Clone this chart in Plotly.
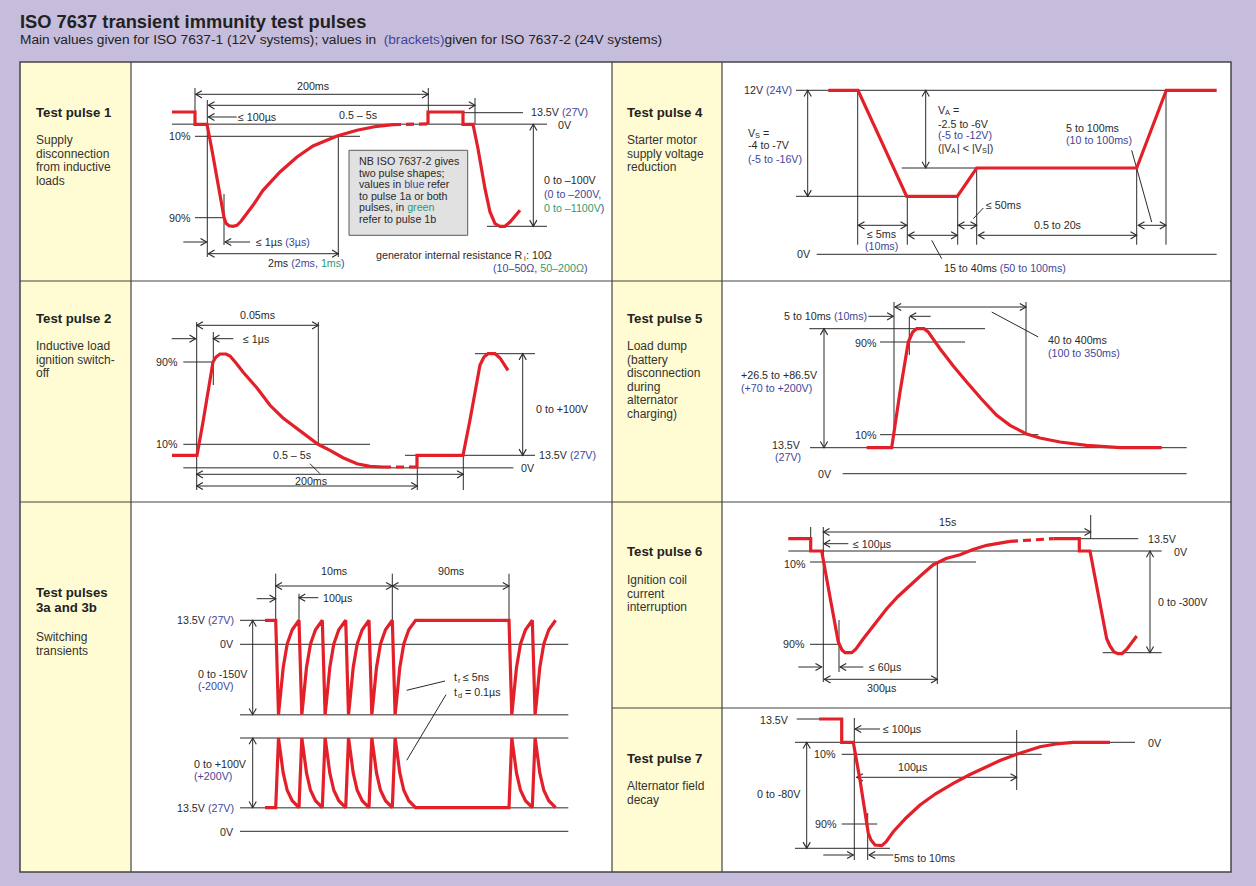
import math
import plotly.graph_objects as go

W, H = 1256, 886
BG = "#c6bddc"
YEL = "#fffbd2"
RED = "#e3202a"
INK = "#2a2a2a"
GRAY = "#707070"
BORDER = "#444444"
BLUE = "#3f469a"
GREEN = "#2e9a72"
FONT = "Liberation Sans, Arial, sans-serif"
FS = 10.7

# ---------------- waveform data (time position, level above the panel's 0 V line) ----------------
# Test pulse 1
p1_t = [172, 195, 195, 207, 212, 217, 221, 224, 226, 229, 233, 237, 241, 245, 253, 263, 280, 297, 313, 337, 357, 377, 393]
p1_v = [12.3, 12.3, 0, 0, -26, -54, -76, -93, -99, -101.5, -102, -101, -97, -92, -81, -66, -47.7, -32.7, -21.7, -11.7, -6, -2, -0.4]
p1_dash_t = [393, 428]
p1_dash_v = [-0.4, 0.4]
p1b_t = [428, 428, 463, 463, 473, 478, 485, 490, 495, 500, 505, 510, 520]
p1b_v = [0.4, 12.3, 12.3, 0, 0, -24.4, -64.4, -87.7, -99.4, -102, -102, -97.7, -86]

# Test pulse 2
p2_t = [172, 197, 203, 209, 213, 216, 220, 226, 230, 236, 243, 257, 270, 283, 297, 310, 318, 330, 343, 357, 370, 383]
p2_v = [12.4, 12.4, 45.7, 79.7, 105.7, 110.7, 113.7, 113.7, 111.7, 104.7, 95.7, 79.7, 62.4, 49.7, 39, 29.7, 23.4, 17.4, 10, 4, 1.4, 0.7]
p2_dash_t = [383, 414]
p2_dash_v = [0.7, 0.7]
p2b_t = [414, 417, 417, 463, 470, 476, 480, 484, 488, 495, 500, 508]
p2b_v = [0.7, 0.7, 12.4, 12.4, 47.7, 82.7, 102.7, 110.7, 114, 114, 109.7, 97.4]

# Test pulses 3a / 3b
p3_t = [265,
        275.7, 278.5, 279.7, 281.2, 283.2, 287.2, 292.2, 299,
        301.8, 303, 304.5, 306.5, 310.5, 315.5, 322.3,
        325.1, 326.3, 327.8, 329.8, 333.8, 338.8, 345.7,
        348.5, 349.7, 351.2, 353.2, 357.2, 362.2, 369,
        371.8, 373, 374.5, 376.5, 380.5, 385.5, 392.3,
        395.1, 396.3, 397.8, 399.8, 403.8, 408.8, 415.6,
        509, 511.8, 513, 514.5, 516.5, 520.5, 525.5, 532.3,
        535.1, 536.3, 537.8, 539.8, 543.8, 548.8, 555.6]
p3a_v = [24,
         24, -70.4, -59.1, -42.1, -23.2, 0.4, 14.6, 24,
         -70.4, -59.1, -42.1, -23.2, 0.4, 14.6, 24,
         -70.4, -59.1, -42.1, -23.2, 0.4, 14.6, 24,
         -70.4, -59.1, -42.1, -23.2, 0.4, 14.6, 24,
         -70.4, -59.1, -42.1, -23.2, 0.4, 14.6, 24,
         -70.4, -59.1, -42.1, -23.2, 0.4, 14.6, 24,
         24, -70.4, -59.1, -42.1, -23.2, 0.4, 14.6, 24,
         -70.4, -59.1, -42.1, -23.2, 0.4, 14.6, 24]
p3b_v = [-163.4,
         -163.4, -93.7, -102.1, -114.6, -128.6, -146, -156.4, -163.4,
         -93.7, -102.1, -114.6, -128.6, -146, -156.4, -163.4,
         -93.7, -102.1, -114.6, -128.6, -146, -156.4, -163.4,
         -93.7, -102.1, -114.6, -128.6, -146, -156.4, -163.4,
         -93.7, -102.1, -114.6, -128.6, -146, -156.4, -163.4,
         -93.7, -102.1, -114.6, -128.6, -146, -156.4, -163.4,
         -163.4, -93.7, -102.1, -114.6, -128.6, -146, -156.4, -163.4,
         -93.7, -102.1, -114.6, -128.6, -146, -156.4, -163.4]

# Test pulse 4
p4_t = [828.3, 858, 906.7, 957.3, 976.7, 1136.7, 1166.3, 1216.7]
p4_v = [164, 164, 58, 58, 86.3, 86.3, 164, 164]

# Test pulse 5
p5_t = [866.7, 891.7, 900, 905, 908.3, 912.7, 916.7, 924, 928.3, 940, 953.3, 966.7, 981.7, 996.7, 1010, 1026, 1040, 1060, 1086.7, 1120, 1161.7]
p5_v = [26, 26, 81.7, 111.7, 131.7, 141.7, 145, 145, 141.7, 125, 107.7, 91.7, 74.4, 58.4, 48.4, 40, 35.7, 31.7, 28.4, 26, 26]

# Test pulse 6
p6_t = [788.3, 810.7, 810.7, 821.7, 830, 838.3, 842, 845, 851.7, 856, 863.3, 875, 886.7, 898, 910, 922, 933.3, 946, 960, 973, 986.7, 1000, 1010]
p6_v = [12.3, 12.3, 0, 0, -46, -91, -99, -101.7, -101.7, -98, -87.7, -72.5, -57.7, -45.5, -34.3, -23.5, -13.7, -7.5, -3.7, 1.5, 5.7, 8.2, 9.7]
p6_dash_t = [1010, 1053.3]
p6_dash_v = [9.7, 12.3]
p6b_t = [1053.3, 1079.3, 1079.3, 1090, 1106.7, 1110, 1114, 1118, 1122, 1127, 1136.7]
p6b_v = [12.3, 12.3, 0, 0, -87.7, -95, -101, -102.7, -102.7, -98, -85]

# Test pulse 7
p7_t = [819, 841.7, 841.7, 853.3, 860, 865, 868.3, 871, 875, 881.7, 886, 893.3, 906, 920, 936, 953.3, 970, 986.7, 1000, 1016.7, 1028, 1040, 1056, 1073.3, 1110]
p7_v = [23.3, 23.3, 0, 0, -37.7, -67.7, -91, -97.7, -102.7, -103.4, -99.7, -89.4, -75.7, -62.7, -51.2, -41, -32.2, -24.4, -18.2, -12, -8.2, -4.4, -1.7, 0, 0]

# Panel headings
panel_titles = ["Test pulse 1", "Test pulse 2", "Test pulses<br>3a and 3b", "Test pulse 4",
                "Test pulse 5", "Test pulse 6", "Test pulse 7"]

# ---------------- layout geometry ----------------
# panel: (left, top, right, bottom, y of 0 V line) in page pixels
panels = [
    (131, 62, 612, 281, 124.3),
    (131, 281, 612, 502, 467.7),
    (131, 502, 612, 872, 644.3),
    (722, 62, 1231, 281, 254.3),
    (722, 281, 1231, 502, 473.7),
    (722, 502, 1231, 708, 551),
    (722, 708, 1231, 872, 742.3),
]

fig = go.Figure()
axes = {
    "xaxis": dict(domain=[0, 1], range=[0, W], visible=False, fixedrange=True),
    "yaxis": dict(domain=[0, 1], range=[H, 0], visible=False, fixedrange=True),
}
for i, (l, t, r, b, base) in enumerate(panels, start=2):
    axes[f"xaxis{i}"] = dict(domain=[l / W, r / W], range=[l, r], visible=False,
                             anchor=f"y{i}", fixedrange=True)
    axes[f"yaxis{i}"] = dict(domain=[1 - b / H, 1 - t / H], range=[base - b, base - t],
                             visible=False, anchor=f"x{i}", fixedrange=True)

fig.add_trace(go.Scatter(x=[0], y=[0], mode="markers", marker=dict(opacity=0),
                         hoverinfo="skip", showlegend=False))


def wave(t, v, panel, dash=None):
    ln = dict(color=RED, width=3.2)
    if dash:
        ln["dash"] = dash
    fig.add_trace(go.Scatter(x=t, y=v, mode="lines", line=ln, xaxis=f"x{panel}",
                             yaxis=f"y{panel}", hoverinfo="skip", showlegend=False))


wave(p1_t, p1_v, 2)
wave(p1_dash_t, p1_dash_v, 2, "8px,5px")
wave(p1b_t, p1b_v, 2)
wave(p2_t, p2_v, 3)
wave(p2_dash_t, p2_dash_v, 3, "8px,5px")
wave(p2b_t, p2b_v, 3)
wave(p3_t, p3a_v, 4)
wave(p3_t, p3b_v, 4)
wave(p4_t, p4_v, 5)
wave(p5_t, p5_v, 6)
wave(p6_t, p6_v, 7)
wave(p6_dash_t, p6_dash_v, 7, "8px,5px")
wave(p6b_t, p6b_v, 7)
wave(p7_t, p7_v, 8)

shapes = []
annotations = []


def seg(x0, y0, x1, y1, color=INK, width=1):
    shapes.append(dict(type="line", xref="x", yref="y", x0=x0, y0=y0, x1=x1, y1=y1,
                       line=dict(color=color, width=width), layer="below"))


def hl(x0, x1, y, color=INK, width=1):
    seg(x0, y, x1, y, color, width)


def vl(x, y0, y1, color=INK, width=1):
    seg(x, y0, x, y1, color, width)


def rect(x0, y0, x1, y1, fill, lc=None, lw=0):
    shapes.append(dict(type="rect", xref="x", yref="y", x0=x0, y0=y0, x1=x1, y1=y1,
                       fillcolor=fill, line=dict(color=lc or fill, width=lw), layer="below"))


def head(xt, yt, xf, yf, L=6.2, hw=3.6):
    dx, dy = xf - xt, yf - yt
    n = math.hypot(dx, dy)
    ux, uy = dx / n, dy / n
    px, py = -uy, ux
    ax_, ay_ = xt + ux * L + px * hw, yt + uy * L + py * hw
    bx_, by_ = xt + ux * L - px * hw, yt + uy * L - py * hw
    shapes.append(dict(type="path", xref="x", yref="y",
                       path=f"M{ax_:.2f},{ay_:.2f} L{xt:.2f},{yt:.2f} L{bx_:.2f},{by_:.2f}",
                       line=dict(color=INK, width=1.1), layer="below"))


def arrow(x0, y0, x1, y1, both=False):
    seg(x0, y0, x1, y1)
    head(x1, y1, x0, y0)
    if both:
        head(x0, y0, x1, y1)


def label(x, y, s, anchor="left", size=FS, color=INK):
    annotations.append(dict(x=x, y=y, xref="x", yref="y", text=s, showarrow=False,
                            xanchor=anchor, yanchor="middle", align=anchor, borderpad=0,
                            font=dict(size=size, color=color, family=FONT)))


def sub(x, y, s):
    label(x, y + 3.2, s, size=7.4)


def blue(s):
    return f'<span style="color:{BLUE}">{s}</span>'


def green(s):
    return f'<span style="color:{GREEN}">{s}</span>'


# ---------------- frame ----------------
rect(20, 62, 1231, 872, "white")
rect(20, 62, 131, 872, YEL)
rect(612, 62, 722, 872, YEL)
for x in (131, 612, 722):
    vl(x, 62, 872, BORDER, 1.2)
hl(20, 1231, 281, BORDER, 1.2)
hl(20, 1231, 502, BORDER, 1.2)
hl(612, 1231, 708, BORDER, 1.2)
shapes.append(dict(type="rect", xref="x", yref="y", x0=20, y0=62, x1=1231, y1=872,
                   line=dict(color=BORDER, width=1.5), fillcolor="rgba(0,0,0,0)", layer="below"))

# titles
label(19, 21, "<b>ISO 7637 transient immunity test pulses</b>", size=18.3, color="#222222")
label(19, 39.5, "Main values given for ISO 7637-1 (12V systems); values in \u00a0" + blue("(brackets)")
      + "given for ISO 7637-2 (24V systems)", size=13.7, color="#222222")

# panel headings + descriptions
heads = [(35, [112], panel_titles[0]), (35, [318], panel_titles[1]), (35, [592, 607], panel_titles[2]),
         (626, [112], panel_titles[3]), (626, [318], panel_titles[4]), (626, [551], panel_titles[5]),
         (626, [758], panel_titles[6])]
for x, ys, txt in heads:
    for y, part in zip(ys, txt.split("<br>")):
        label(x, y, f"<b>{part}</b>", size=13.2, color="#222222")

descs = [
    (35, 140, ["Supply", "disconnection", "from inductive", "loads"]),
    (35, 346, ["Inductive load", "ignition switch-", "off"]),
    (35, 637, ["Switching", "transients"]),
    (626, 140, ["Starter motor", "supply voltage", "reduction"]),
    (626, 346, ["Load dump", "(battery", "disconnection", "during", "alternator", "charging)"]),
    (626, 580, ["Ignition coil", "current", "interruption"]),
    (626, 786, ["Alternator field", "decay"]),
]
for x, y0, lines in descs:
    for k, s in enumerate(lines):
        label(x, y0 + 13.5 * k, s, size=12, color="#333333")

# ---------------- panel 1 ----------------
hl(172, 547, 124.3, GRAY, 1.6)
hl(463, 523, 112.7)
hl(195, 360, 136.3)
hl(195, 223, 217.7)
hl(487, 547, 226.3)
vl(195, 88, 124)
vl(207.3, 100, 257)
vl(224, 194, 245)
vl(338.3, 137, 257)
vl(428.3, 88, 112)
vl(475, 98, 124)
rect(349, 150.3, 467.7, 235.3, "#e1e1e1", "#5a5a5a", 1)
arrow(195.7, 94.3, 428.3, 94.3, True)
arrow(208.3, 105.3, 475, 105.3, True)
arrow(236.7, 117, 208.3, 117)
arrow(183.3, 242, 206.7, 242)
arrow(250, 242, 225, 242)
arrow(208.3, 253.7, 338.3, 253.7, True)
arrow(533.3, 124.3, 533.3, 226.3, True)
label(312.7, 86, "200ms", "center")
label(357.5, 114.7, "0.5 – 5s", "center")
label(237, 117, "≤ 100µs")
label(192, 136.3, "10%", "right")
label(192, 217.7, "90%", "right")
label(255, 242, "≤ 1µs " + blue("(3µs)"))
label(266.7, 263, "2ms " + blue("(2ms, ") + green("1ms") + blue(")"))
label(530, 112, "13.5V " + blue("(27V)"))
label(557, 124.5, "0V")
label(543, 180.3, "0 to –100V")
label(543, 193.5, blue("(0 to –200V,"))
label(543, 207.5, green("0 to –1100V") + blue(")"))
note = ["NB ISO 7637-2 gives", "two pulse shapes;", "values in " + blue("blue") + " refer",
        "to pulse 1a or both", "pulses, in " + green("green"), "refer to pulse 1b"]
for k, s in enumerate(note):
    label(357.5, 161 + 11.6 * k, s)
label(522.5, 255.3, "generator internal resistance R", "right")
sub(522.7, 255.3, "i")
label(524.6, 255.3, ": 10Ω")
label(491.7, 267.5, blue("(10–50Ω, ") + green("50–200Ω") + blue(")"))

# ---------------- panel 2 ----------------
hl(183.3, 513.3, 467.7, GRAY, 1.6)
hl(405, 535, 455.3)
hl(183.3, 370, 444.3)
hl(183.3, 213.3, 362)
hl(475, 535, 353.7)
vl(196.7, 322, 490)
vl(213.3, 332, 385)
vl(318.3, 322, 444.3)
vl(417.3, 455, 490)
vl(463.3, 455, 490)
seg(310, 463.7, 320, 473.7)
arrow(196.7, 325.3, 318.3, 325.3, True)
arrow(171.7, 338.7, 195.7, 338.7)
arrow(233.3, 338.7, 213.3, 338.7)
arrow(196.7, 474.3, 463.3, 474.3, True)
arrow(196.7, 486, 417.3, 486, True)
arrow(522.7, 353.7, 522.7, 455.3, True)
label(257.5, 315.3, "0.05ms", "center")
label(241.7, 338.7, "≤ 1µs")
label(179, 362, "90%", "right")
label(179, 444.3, "10%", "right")
label(291.7, 455.3, "0.5 – 5s", "center")
label(311, 480.5, "200ms", "center")
label(535, 408.7, "0 to +100V")
label(538, 455.3, "13.5V " + blue("(27V)"))
label(520, 467.7, "0V")

# ---------------- panel 3 ----------------
hl(240, 276.7, 620.3)
hl(240, 568.3, 644.3)
hl(240, 568.3, 714.7, GRAY, 1.6)
hl(240, 568.3, 738)
hl(240, 568.3, 807.7, GRAY, 1.6)
hl(240, 568.3, 831.3)
vl(275.7, 573.7, 620.3)
vl(392.3, 573.7, 620.3)
vl(509, 573.7, 620.3)
vl(299, 593.7, 620.3)
seg(406.7, 690.3, 445, 681)
seg(446, 694.7, 406.7, 760.3)
arrow(275.7, 586, 392.3, 586, True)
arrow(392.3, 586, 509, 586, True)
arrow(256.7, 598.7, 275.7, 598.7)
arrow(318.3, 597.7, 299, 597.7)
arrow(252.7, 620.3, 252.7, 714.7, True)
arrow(252.7, 738, 252.7, 807.7, True)
label(334.2, 571.3, "10ms", "center")
label(450.7, 571.3, "90ms", "center")
label(321.7, 597.7, "100µs")
label(235, 620.3, "13.5V " + blue("(27V)"), "right")
label(235, 643.5, "0V", "right")
label(196.7, 673.7, "0 to -150V")
label(196.7, 685.5, blue("(-200V)"))
label(193, 764.3, "0 to +100V")
label(193, 776.3, blue("(+200V)"))
label(235, 807.7, "13.5V " + blue("(27V)"), "right")
label(235, 831.5, "0V", "right")
label(453.3, 677, "t")
sub(456.5, 677, "r")
label(462, 677, "≤ 5ns")
label(453.3, 692, "t")
sub(456.5, 692, "d")
label(463.5, 692, "= 0.1µs")

# ---------------- panel 4 ----------------
hl(796, 1166, 90.3)
hl(796, 906.7, 196.3)
hl(901.7, 976.7, 168)
hl(816.7, 1216.7, 254.3)
vl(857.7, 90, 244.7)
vl(907.3, 196, 244.7)
vl(957.7, 196, 244.7)
vl(976.7, 168, 244.7)
vl(1136.7, 168, 244.7)
vl(1166, 90, 244.7)
seg(931.7, 240.3, 941.7, 258.7)
seg(973.3, 218.7, 983.3, 208)
seg(1131.7, 150.3, 1151.7, 222)
arrow(807.7, 90.3, 807.7, 196.3, True)
arrow(925.7, 90.3, 925.7, 168, True)
arrow(858.3, 225.3, 906.7, 225.3, True)
arrow(908.3, 235.3, 957.3, 235.3, True)
arrow(958.3, 225.3, 976.7, 225.3, True)
arrow(978.3, 235.3, 1136.7, 235.3, True)
arrow(1138.3, 225.3, 1166, 225.3, True)
label(743, 90.3, "12V " + blue("(24V)"))
label(746.7, 132.5, "V")
sub(754, 132.5, "S")
label(762, 132.5, "=")
label(746.7, 145, "-4 to -7V")
label(746.7, 158.5, blue("(-5 to -16V)"))
label(936.7, 109.5, "V")
sub(944, 109.5, "A")
label(952, 109.5, "=")
label(936.7, 123.5, "-2.5 to -6V")
label(936.7, 135, blue("(-5 to -12V)"))
label(936.7, 147.5, "(|V")
sub(950.3, 147.5, "A")
label(955.6, 147.5, "| &lt; |V")
sub(980.6, 147.5, "S")
label(985.8, 147.5, "|)")
label(1065, 127.7, "5 to 100ms")
label(1065, 139.7, blue("(10 to 100ms)"))
label(881.7, 233.7, "≤ 5ms", "center")
label(881.7, 246.3, blue("(10ms)"), "center")
label(985, 204.7, "≤ 50ms")
label(1057, 225.3, "0.5 to 20s", "center")
label(942.7, 267.7, "15 to 40ms " + blue("(50 to 100ms)"))
label(812, 254.3, "0V", "right")

# ---------------- panel 5 ----------------
hl(810, 1186.7, 447.7)
hl(842.7, 1186.7, 473.7)
hl(809.3, 985, 328.7)
hl(880, 965, 342)
hl(880, 1038.3, 434.7)
vl(894, 302, 435)
vl(1026, 302, 434)
vl(909.3, 317, 355)
seg(991.7, 312, 1038.3, 337)
arrow(824, 328.7, 824, 447.7, True)
arrow(895, 307, 1026, 307, True)
arrow(868.3, 316.3, 893.3, 316.3)
arrow(930.7, 316.3, 910, 316.3)
label(868, 316.3, "5 to 10ms " + blue("(10ms)"), "right")
label(878.3, 343, "90%", "right")
label(878.3, 434.7, "10%", "right")
label(1046.7, 340.3, "40 to 400ms")
label(1046.7, 352.7, blue("(100 to 350ms)"))
label(740, 375.3, "+26.5 to +86.5V")
label(740, 388, blue("(+70 to +200V)"))
label(802, 445.3, "13.5V", "right")
label(802, 456.5, blue("(27V)"), "right")
label(833, 473.7, "0V", "right")

# ---------------- panel 6 ----------------
hl(788.3, 1161.7, 551)
hl(1080, 1138.3, 538.7)
hl(810, 976, 562)
hl(810, 840, 644.3)
hl(1102.7, 1161.7, 652.7)
vl(810.7, 527, 551)
vl(823.3, 527, 682)
vl(839, 620, 672)
vl(937.3, 562, 684)
vl(1090.7, 515, 538.7)
arrow(823.3, 532, 1090.7, 532, True)
arrow(848.3, 543.7, 824, 543.7)
arrow(798.3, 667, 821.7, 667)
arrow(863.3, 667, 840, 667)
arrow(824.3, 679.3, 937.3, 679.3, True)
arrow(1150, 551, 1150, 652.7, True)
label(947.5, 522, "15s", "center")
label(851.7, 543.7, "≤ 100µs")
label(1146.7, 538.7, "13.5V")
label(1173, 552, "0V")
label(807.3, 563.7, "10%", "right")
label(806, 644.3, "90%", "right")
label(868.3, 667, "≤ 60µs")
label(881.7, 688, "300µs", "center")
label(1156.7, 602, "0 to -300V")

# ---------------- panel 7 ----------------
hl(796.7, 819, 719)
hl(795, 1135, 742.3)
hl(841.7, 1041.7, 754.3)
hl(841.7, 877.3, 824)
hl(795, 890, 848.3)
vl(854.3, 718, 860)
vl(867.7, 813, 860)
vl(1016.7, 730, 790)
arrow(806.7, 742.3, 806.7, 848.3, True)
arrow(880, 729, 855, 729)
arrow(856.7, 777.3, 1016.7, 777.3, True)
arrow(823.3, 855, 853.3, 855)
arrow(893.3, 855, 869, 855)
label(790, 720, "13.5V", "right")
label(1146.7, 743.3, "0V")
label(836.7, 754.3, "10%", "right")
label(838.3, 824, "90%", "right")
label(801.7, 794.3, "0 to -80V", "right")
label(881.7, 729, "≤ 100µs")
label(912.5, 766.7, "100µs", "center")
label(893.3, 858.3, "5ms to 10ms")

fig.update_layout(
    width=W, height=H, margin=dict(l=0, r=0, t=0, b=0),
    paper_bgcolor=BG, plot_bgcolor="rgba(0,0,0,0)",
    font=dict(family=FONT, color=INK, size=FS),
    showlegend=False, shapes=shapes, annotations=annotations, hovermode=False,
    **axes,
)
fig.write_html("out.html")
